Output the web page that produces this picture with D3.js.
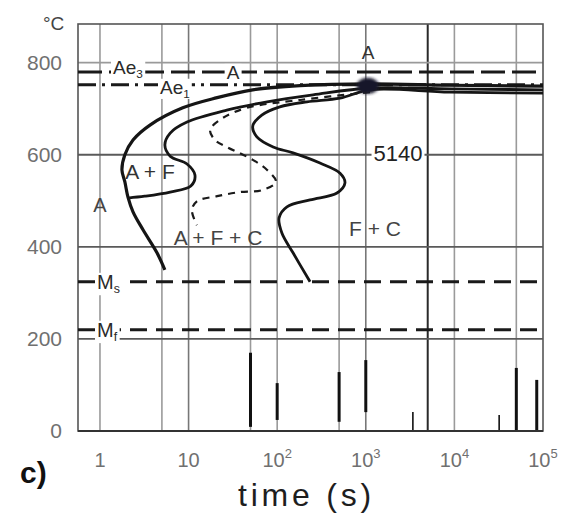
<!DOCTYPE html>
<html>
<head>
<meta charset="utf-8">
<script src="https://cdn.jsdelivr.net/npm/d3@7"></script>
<style>
  body { margin: 0; background: #fff; }
  svg { display: block; }
</style>
</head>
<body>
<svg id="chart" width="571" height="516"></svg>
<script>
// axis ticks
const timeTicks = [1, 10, 100, 1000, 10000, 100000];
const timeTickExps = ["", "", "2", "3", "4", "5"];
const gridTimes = [1, 5, 10, 50, 100, 500, 1000, 5000, 10000, 50000];
const tempTicks = [0, 200, 400, 600, 800];

// isothermal transformation curves for 5140 steel: [time (s), temperature (°C)]
const startCurve = [
  [100000, 749], [8900, 751], [1115, 754], [181, 750], [53, 741], [21, 724],
  [8.6, 702], [3.7, 665], [2.36, 632], [1.91, 600], [1.77, 567], [1.91, 541],
  [2.07, 508], [2.36, 476], [3.06, 437], [4.4, 387], [5.4, 350]
];
const ferriteCurve = [
  [100000, 741], [8900, 743], [1115, 745], [254, 730], [77, 715], [27, 697],
  [9.6, 671], [6.2, 647], [5.4, 621], [6.2, 597], [9.6, 580], [11.8, 556],
  [10.6, 532], [6.2, 519], [3.2, 510], [2.07, 506]
];
const finishCurve = [
  [100000, 734], [8900, 736], [1115, 741], [512, 723], [217, 715], [107, 704],
  [67, 686], [53, 662], [59, 639], [90, 617], [151, 604], [304, 582],
  [512, 560], [582, 539], [473, 517], [235, 502], [129, 487], [105, 463],
  [113, 430], [151, 387], [235, 324]
];
const halfCurve = [
  [1115, 736], [181, 719], [45.6, 702], [24.4, 680], [17.5, 654], [19.9, 632],
  [27, 617], [53, 589], [77, 567], [97, 541], [67, 523], [38, 519],
  [21, 510], [12.4, 499], [10.9, 480], [12.4, 447]
];

// critical temperatures (°C)
const ae3Temp = 780;
const ae1Temp = 752;
const msTemp = 324;
const mfTemp = 220;

// dark strokes along the base: time (s), upper and lower temperature (°C)
const markTimes   = [50, 100, 500, 1000, 3400, 32000, 50000, 85000];
const markTops    = [170, 104, 128, 154, 41, 35, 137, 111];
const markBottoms = [9, 24, 20, 41, 0, 0, 0, 0];

const svg = d3.select("#chart");
const x = d3.scaleLog().domain([0.565, 100000]).range([78, 543]);
const y = d3.scaleLinear().domain([0, 884]).range([431, 24]);

const SANS = "'Liberation Sans', Arial, sans-serif";

// gridlines
svg.append("g").selectAll("line").data(gridTimes).join("line")
  .attr("x1", d => x(d)).attr("x2", d => x(d))
  .attr("y1", y(884)).attr("y2", y(0))
  .attr("stroke", d => d === 5000 ? "#2a2a2a" : (d === 10 || d === 1000 ? "#777" : "#9a9a9a"))
  .attr("stroke-width", d => d === 5000 ? 2 : 1.6);

svg.append("g").selectAll("line").data(tempTicks.filter(d => d > 0)).join("line")
  .attr("x1", x.range()[0]).attr("x2", x.range()[1])
  .attr("y1", d => y(d)).attr("y2", d => y(d))
  .attr("stroke", d => d === 800 ? "#9a9a9a" : "#5a5a5a")
  .attr("stroke-width", 1.8);

// dark strokes near the time axis
svg.append("g").selectAll("line").data(markTimes).join("line")
  .attr("x1", d => x(d)).attr("x2", d => x(d))
  .attr("y1", (d, i) => y(markTops[i])).attr("y2", (d, i) => y(markBottoms[i]))
  .attr("stroke", "#111")
  .attr("stroke-width", (d, i) => markTops[i] > 60 ? 3 : 1.6);

// frame
svg.append("rect")
  .attr("x", x.range()[0]).attr("y", y(884))
  .attr("width", x.range()[1] - x.range()[0]).attr("height", y(0) - y(884))
  .attr("fill", "none").attr("stroke", "#555").attr("stroke-width", 1.6);
svg.append("line")
  .attr("x1", x.range()[0]).attr("x2", x.range()[1])
  .attr("y1", y(0)).attr("y2", y(0))
  .attr("stroke", "#333").attr("stroke-width", 2.2);

// Ms / Mf lines
const mLines = [msTemp, mfTemp];
svg.append("g").selectAll("line").data(mLines).join("line")
  .attr("x1", x.range()[0]).attr("x2", x.range()[1])
  .attr("y1", d => y(d)).attr("y2", d => y(d))
  .attr("stroke", "#1a1a1a").attr("stroke-width", 3)
  .attr("stroke-dasharray", "17,9");

// Ae3 / Ae1 lines
svg.append("line")
  .attr("x1", x.range()[0]).attr("x2", x.range()[1])
  .attr("y1", y(ae3Temp)).attr("y2", y(ae3Temp))
  .attr("stroke", "#1a1a1a").attr("stroke-width", 3)
  .attr("stroke-dasharray", "24,7");
svg.append("line")
  .attr("x1", x.range()[0]).attr("x2", x.range()[1])
  .attr("y1", y(ae1Temp)).attr("y2", y(ae1Temp))
  .attr("stroke", "#1a1a1a").attr("stroke-width", 3)
  .attr("stroke-dasharray", "18,6,3,6");

// transformation curves
const line = d3.line()
  .x(d => x(d[0])).y(d => y(d[1]))
  .curve(d3.curveCatmullRom.alpha(0.5));

svg.append("path").datum(startCurve).attr("d", line)
  .attr("fill", "none").attr("stroke", "#151515").attr("stroke-width", 3.2);
svg.append("path").datum(ferriteCurve).attr("d", line)
  .attr("fill", "none").attr("stroke", "#151515").attr("stroke-width", 2.8);
svg.append("path").datum(finishCurve).attr("d", line)
  .attr("fill", "none").attr("stroke", "#151515").attr("stroke-width", 2.8);
svg.append("path").datum(halfCurve).attr("d", line)
  .attr("fill", "none").attr("stroke", "#1a1a1a").attr("stroke-width", 2.2)
  .attr("stroke-dasharray", "7,6");

// ink smudge where the curves meet the Ae1 line
const defs = svg.append("defs");
defs.append("filter").attr("id", "soft")
  .append("feGaussianBlur").attr("stdDeviation", 1.8);
svg.append("ellipse")
  .attr("cx", x(1000) + 2).attr("cy", y(ae1Temp) + 1)
  .attr("rx", 11).attr("ry", 8)
  .attr("fill", "#14152c").attr("filter", "url(#soft)");

// labels with a white knockout behind them
function label(px, py, parts, size, opts = {}) {
  const g = svg.append("g");
  const t = g.append("text")
    .attr("x", px).attr("y", py)
    .attr("font-family", SANS).attr("font-size", size)
    .attr("fill", opts.fill || "#2a2a2a")
    .attr("text-anchor", opts.anchor || "start");
  parts.forEach(p => {
    const s = t.append("tspan").text(p.text);
    if (p.sub) s.attr("font-size", size * 0.62).attr("dy", size * 0.22);
    if (p.sup) s.attr("font-size", size * 0.62).attr("dy", -size * 0.42);
  });
  if (opts.knock) {
    const b = t.node().getBBox();
    g.insert("rect", "text")
      .attr("x", b.x - 2).attr("y", b.y + 2)
      .attr("width", b.width + 4).attr("height", b.height - 3)
      .attr("fill", "#fff");
  }
  return g;
}

label(113, y(ae3Temp) + 2, [{text: "Ae"}, {text: "3", sub: true}], 19, {knock: true});
label(160, y(ae1Temp) + 9, [{text: "Ae"}, {text: "1", sub: true}], 19, {knock: true});
label(x(31.7), y(ae3Temp) + 7, [{text: "A"}], 19, {knock: true, anchor: "middle"});
label(x(1059), y(823) + 7, [{text: "A"}], 19, {anchor: "middle", fill: "#333"});
label(97, y(msTemp) + 7, [{text: "M"}, {text: "s", sub: true}], 20, {knock: true});
label(97, y(mfTemp) + 7, [{text: "M"}, {text: "f", sub: true}], 20, {knock: true});
label(x(1), y(491) + 7, [{text: "A"}], 20, {anchor: "middle", fill: "#444"});
label(x(3.67), y(565) + 8, [{text: "A + F"}], 21, {anchor: "middle", fill: "#333"});
label(x(21.5), y(421) + 8, [{text: "A + F + C"}], 21, {anchor: "middle", fill: "#444"});
label(x(1270), y(441) + 8, [{text: "F + C"}], 21, {anchor: "middle", fill: "#444"});
label(x(2310), y(604) + 8, [{text: "5140"}], 22, {anchor: "middle", fill: "#222", knock: true});

// temperature tick labels
svg.append("g").selectAll("text").data(tempTicks).join("text")
  .attr("x", 62).attr("y", d => y(d) + 7)
  .attr("text-anchor", "end")
  .attr("font-family", SANS).attr("font-size", 21)
  .attr("fill", "#707070")
  .text(d => d);
svg.append("text")
  .attr("x", 43).attr("y", 30)
  .attr("font-family", SANS).attr("font-size", 19).attr("fill", "#444")
  .text("°C");

// time tick labels
const tl = svg.append("g").selectAll("text").data(timeTicks).join("text")
  .attr("x", d => x(d)).attr("y", 467)
  .attr("text-anchor", "middle")
  .attr("font-family", SANS).attr("font-size", 20)
  .attr("fill", "#707070");
tl.each(function(d, i) {
  const t = d3.select(this);
  t.append("tspan").text(d === 1 ? "1" : "10");
  if (timeTickExps[i]) {
    t.append("tspan").text(timeTickExps[i])
      .attr("font-size", 13).attr("dy", -9);
  }
});

svg.append("text")
  .attr("x", 238).attr("y", 506)
  .attr("font-family", SANS).attr("font-size", 32)
  .attr("letter-spacing", 3.8)
  .attr("fill", "#1e1e1e")
  .text("time (s)");

svg.append("text")
  .attr("x", 20).attr("y", 483)
  .attr("font-family", SANS).attr("font-size", 30).attr("font-weight", "bold")
  .attr("fill", "#111")
  .text("c)");
</script>
</body>
</html>
